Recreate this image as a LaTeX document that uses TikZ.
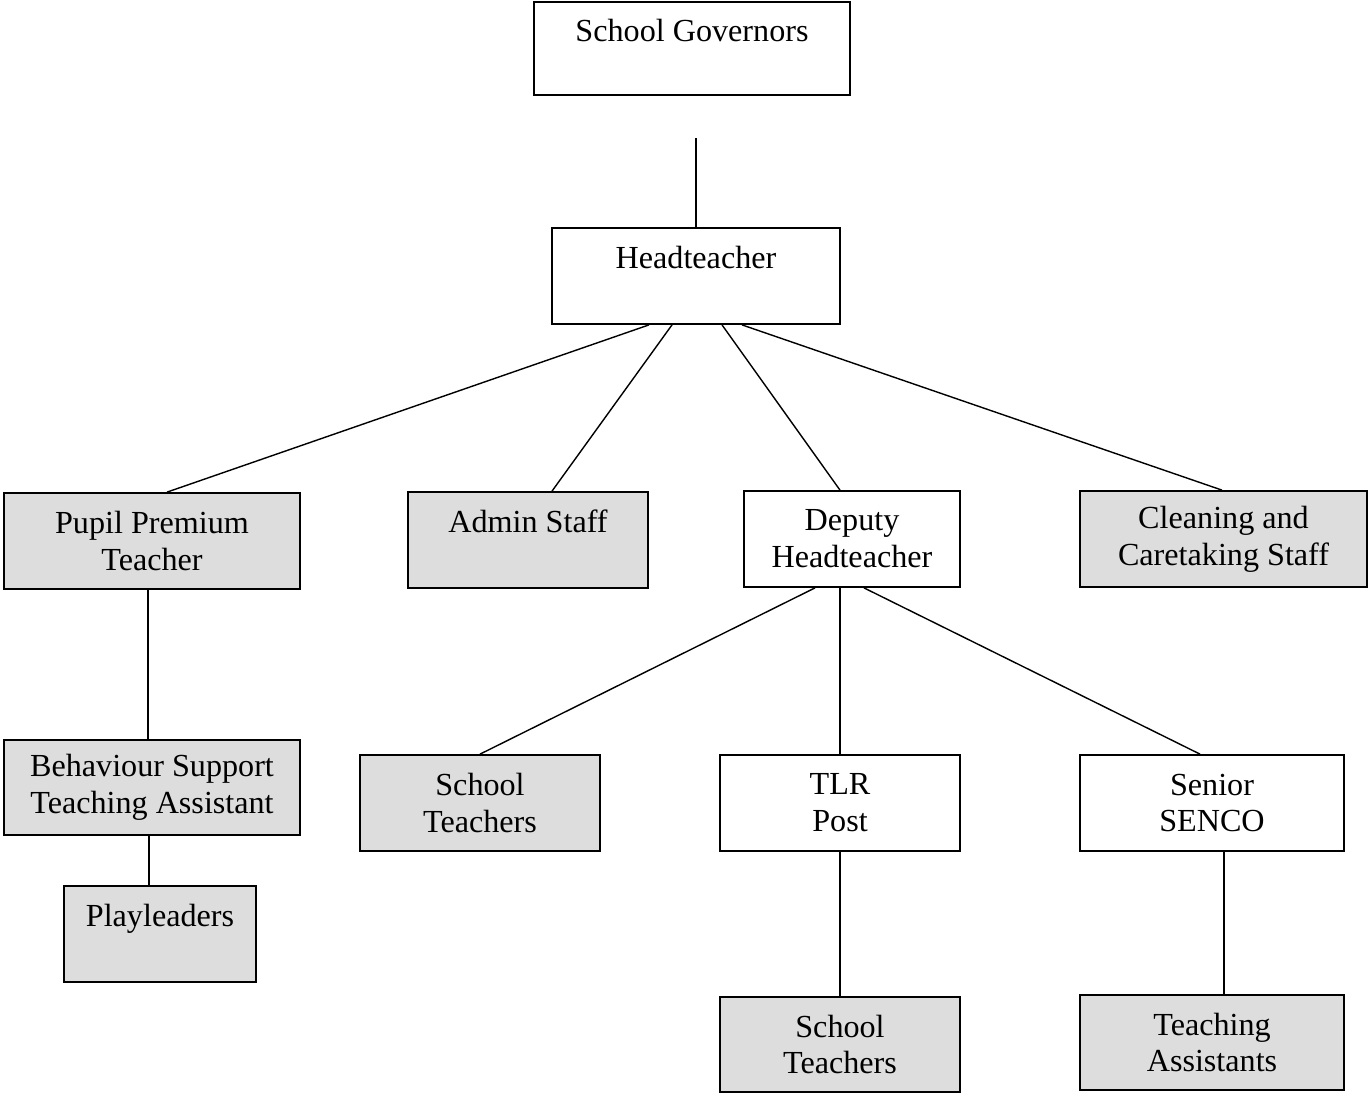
\documentclass[tikz,border=0pt]{standalone}
\usepackage{fontspec}
\setmainfont{Liberation Serif}
\usepackage{tikz}
\usetikzlibrary{positioning}
\definecolor{boxgrey}{HTML}{DDDDDD}
\tikzset{post/.style = {draw, line width=1pt, inner sep=0, align=center,
                        font=\fontsize{18.3}{21}\selectfont}}
\tikzset{staff/.style = {post, fill=boxgrey}}
\tikzset{link/.style = {line width=0.8pt}}

\begin{document}
\begin{tikzpicture}[x=0.02cm, y=-0.02cm]
      \useasboundingbox (0, 0) rectangle (1368, 1093);
      % top of the tree
      \node [post, minimum width=316*0.02cm, minimum height=93*0.02cm] (gov) at (692, 48.5) {School Governors\\\phantom{x}};
      \node [post, minimum width=288*0.02cm, minimum height=96*0.02cm] (head) at (696, 276) {Headteacher\\\phantom{x}};
      \coordinate (govend) at (696, 138);
      % second row
      \node [staff, minimum width=296*0.02cm, minimum height=96*0.02cm] (pupil) at (152, 541) {Pupil Premium\\Teacher};
      \node [staff, minimum width=240*0.02cm, minimum height=96*0.02cm] (admin) at (528, 540) {Admin Staff\\\phantom{x}};
      \node [post, minimum width=216*0.02cm, minimum height=96*0.02cm] (deputy) at (852, 539) {Deputy\\Headteacher};
      \node [staff, minimum width=287*0.02cm, minimum height=96*0.02cm] (clean) at (1223.5, 539) {Cleaning and\\Caretaking Staff};
      % third row
      \node [staff, minimum width=296*0.02cm, minimum height=95*0.02cm] (behav) at (152, 787.5) {Behaviour Support\\Teaching Assistant};
      \node [staff, minimum width=240*0.02cm, minimum height=96*0.02cm] (teach) at (480, 803) {School\\Teachers};
      \node [post, minimum width=240*0.02cm, minimum height=96*0.02cm] (tlr) at (840, 803) {TLR\\Post};
      \node [post, minimum width=264*0.02cm, minimum height=96*0.02cm] (senco) at (1212, 803) {Senior\\SENCO};
      % bottom row
      \node [staff, minimum width=192*0.02cm, minimum height=96*0.02cm] (play) at (160, 934) {Playleaders\\\phantom{x}};
      \node [staff, minimum width=240*0.02cm, minimum height=95*0.02cm] (tlrteach) at (840, 1044.5) {School\\Teachers};
      \node [staff, minimum width=264*0.02cm, minimum height=95*0.02cm] (assist) at (1212, 1042.5) {Teaching\\Assistants};
      % connectors
      \draw [link] (govend) -- (head.north -| 696,0);
      \draw [link] (head.south -| 649,0) -- (pupil.north -| 167,0);
      \draw [link] (head.south -| 672,0) -- (admin.north -| 552,0);
      \draw [link] (head.south -| 722,0) -- (deputy.north -| 840,0);
      \draw [link] (head.south -| 742,0) -- (clean.north -| 1222,0);
      \draw [link] (pupil.south -| 148,0) -- (behav.north -| 148,0);
      \draw [link] (behav.south -| 149,0) -- (play.north -| 149,0);
      \draw [link] (deputy.south -| 815,0) -- (teach.north -| 480,0);
      \draw [link] (deputy.south -| 840,0) -- (tlr.north -| 840,0);
      \draw [link] (deputy.south -| 864,0) -- (senco.north -| 1200,0);
      \draw [link] (tlr.south -| 840,0) -- (tlrteach.north -| 840,0);
      \draw [link] (senco.south -| 1224,0) -- (assist.north -| 1224,0);
    \end{tikzpicture}
\end{document}
